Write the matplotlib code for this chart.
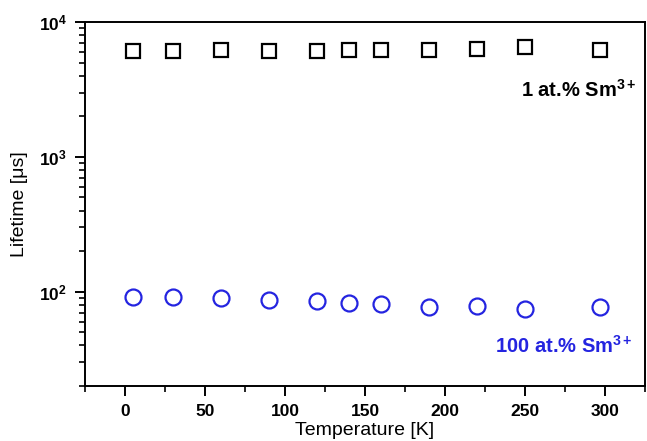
import matplotlib
matplotlib.use("Agg")
import matplotlib.pyplot as plt
from matplotlib.ticker import FixedLocator, LogLocator, NullFormatter, MultipleLocator

plt.rcParams['font.family'] = ['Liberation Sans', 'DejaVu Sans']
plt.rcParams['mathtext.fontset'] = 'custom'
plt.rcParams['mathtext.rm'] = 'Liberation Sans'
plt.rcParams['mathtext.bf'] = 'Liberation Sans:bold'
plt.rcParams['mathtext.it'] = 'Liberation Sans:italic'

temps = [5, 30, 60, 90, 120, 140, 160, 190, 220, 250, 297]
life_1pct = [6090, 6090, 6190, 6060, 6060, 6190, 6190, 6190, 6270, 6550, 6190]
life_100pct = [90.7, 91.8, 89.8, 87.2, 84.7, 82.4, 81.0, 77.7, 78.7, 74.4, 77.7]
xticks = [0, 50, 100, 150, 200, 250, 300]
yticks = [100, 1000, 10000]
ytick_labels = [r"$\mathbf{10^{2}}$", r"$\mathbf{10^{3}}$", r"$\mathbf{10^{4}}$"]

blue = "#2424e0"

fig = plt.figure(figsize=(6.47, 4.41), dpi=100)
ax = fig.add_axes([85/647, 1-386/441, (645-85)/647, (386-22)/441])

ax.plot(temps, life_1pct, linestyle='none', marker='s', markersize=10.5,
        markerfacecolor='none', markeredgecolor='black', markeredgewidth=1.6)
ax.plot(temps, life_100pct, linestyle='none', marker='o', markersize=11.5,
        markerfacecolor='none', markeredgecolor=blue, markeredgewidth=1.6)

ax.set_yscale('log')
ax.set_xlim(-25, 325)
ax.set_ylim(20, 10000)

ax.xaxis.set_major_locator(FixedLocator(xticks))
ax.xaxis.set_minor_locator(MultipleLocator(25))
ax.set_xticklabels([str(t) for t in xticks], fontweight='bold', fontsize=12.5)

ax.yaxis.set_major_locator(FixedLocator(yticks))
ax.set_yticklabels(ytick_labels, fontsize=12.5)
ax.yaxis.set_minor_locator(LogLocator(base=10, subs=range(2, 10)))
ax.yaxis.set_minor_formatter(NullFormatter())

ax.tick_params(which='major', direction='out', length=7, width=1.4, pad=6)
ax.tick_params(which='minor', direction='out', length=4, width=1.2)
for s in ax.spines.values():
    s.set_linewidth(1.4)

ax.set_xlabel("Temperature [K]", fontsize=14, labelpad=2)
ax.set_ylabel("Lifetime [\u03bcs]", fontsize=14, labelpad=8)

ax.text(0.985, 0.795, r"1 at.% Sm$^{\mathbf{3+}}$", transform=ax.transAxes,
        ha='right', va='baseline', fontsize=14.5, fontweight='bold', color='black')
ax.text(0.978, 0.092, r"100 at.% Sm$^{\mathbf{3+}}$", transform=ax.transAxes,
        ha='right', va='baseline', fontsize=14.5, fontweight='bold', color=blue)

fig.savefig("out.png", dpi=100)
